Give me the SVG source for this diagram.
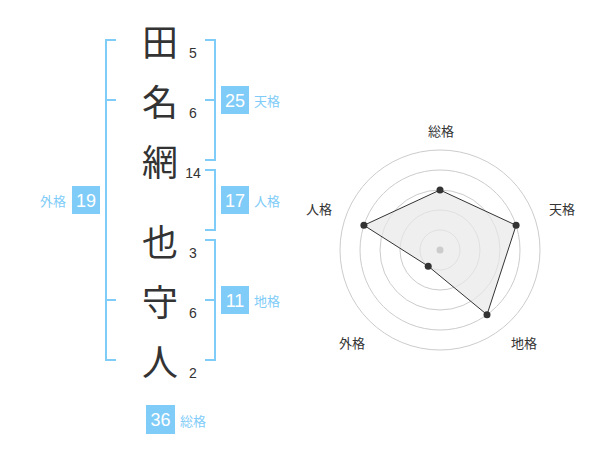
<svg xmlns="http://www.w3.org/2000/svg" width="600" height="470" viewBox="0 0 600 470">
<style>
.bk{fill:none;stroke:#80ccf8;stroke-width:2}
.box{fill:#80ccf8}
.bn{font-family:"Liberation Sans",Arial,sans-serif;font-size:18px;fill:#fff;text-anchor:middle}
.lb{font-family:"Noto Sans CJK JP",sans-serif;font-size:13px;fill:#80ccf8;dominant-baseline:central}
.ch{font-family:"Noto Sans CJK JP",sans-serif;font-size:36px;fill:#333;text-anchor:middle;dominant-baseline:central}
.sn{font-family:"Liberation Sans",Arial,sans-serif;font-size:14px;fill:#333;text-anchor:middle}
.rl{font-family:"Noto Sans CJK JP",sans-serif;font-size:13px;fill:#333;text-anchor:middle;dominant-baseline:central}
.ring{fill:none;stroke:#cccccc;stroke-width:1}
.pt{fill:#333}
</style>
<rect width="600" height="470" fill="#fff"/>
<g id="connectors">
<path class="bk" d="M116,40H106V360H116M106,100H116M106,300H116"/>
<path class="bk" d="M205,40H215V160H205M205,100H215"/>
<path class="bk" d="M205,170H215V230H205"/>
<path class="bk" d="M205,240H215V360H205M205,300H215"/>
</g>
<g id="names">
<g id="c1"><text class="ch" x="160" y="40">田</text><text class="sn" x="193" y="58">5</text></g>
<g id="c2"><text class="ch" x="160" y="100">名</text><text class="sn" x="193" y="118">6</text></g>
<g id="c3"><text class="ch" x="160" y="160">網</text><text class="sn" x="193" y="178">14</text></g>
<g id="c4"><text class="ch" x="160" y="240">也</text><text class="sn" x="193" y="258">3</text></g>
<g id="c5"><text class="ch" x="160" y="300">守</text><text class="sn" x="193" y="318">6</text></g>
<g id="c6"><text class="ch" x="160" y="360">人</text><text class="sn" x="193" y="378">2</text></g>
</g>
<g id="tenkaku"><rect class="box" x="221" y="86" width="28" height="28"/><text class="bn" x="235" y="106.5">25</text><text class="lb" x="254" y="100">天格</text></g>
<g id="jinkaku"><rect class="box" x="221" y="186" width="28" height="28"/><text class="bn" x="235" y="206.5">17</text><text class="lb" x="254" y="200">人格</text></g>
<g id="chikaku"><rect class="box" x="221" y="286" width="28" height="28"/><text class="bn" x="235" y="306.5">11</text><text class="lb" x="254" y="300">地格</text></g>
<g id="gaikaku"><rect class="box" x="72" y="186" width="28" height="28"/><text class="bn" x="86" y="206.5">19</text><text class="lb" x="66" y="200" text-anchor="end">外格</text></g>
<g id="soukaku"><rect class="box" x="146" y="405" width="29" height="29"/><text class="bn" x="160.5" y="426">36</text><text class="lb" x="180" y="420">総格</text></g>
<g id="radar">
<circle class="ring" cx="440" cy="250" r="20"/>
<circle class="ring" cx="440" cy="250" r="40"/>
<circle class="ring" cx="440" cy="250" r="60"/>
<circle class="ring" cx="440" cy="250" r="80"/>
<circle class="ring" cx="440" cy="250" r="100"/>
<polygon points="440,190 516.1,225.3 487,314.7 428.2,266.2 363.9,225.3" fill="#e8e8e8" fill-opacity="0.7" stroke="#333" stroke-width="1"/>
<circle cx="440" cy="250" r="3.5" fill="#cccccc"/>
<circle class="pt" cx="440" cy="190" r="3.5"/>
<circle class="pt" cx="516.1" cy="225.3" r="3.5"/>
<circle class="pt" cx="487" cy="314.7" r="3.5"/>
<circle class="pt" cx="428.2" cy="266.2" r="3.5"/>
<circle class="pt" cx="363.9" cy="225.3" r="3.5"/>
<text class="rl" x="441" y="130">総格</text>
<text class="rl" x="562" y="208">天格</text>
<text class="rl" x="319" y="208">人格</text>
<text class="rl" x="524" y="342">地格</text>
<text class="rl" x="352" y="342">外格</text>
</g>
</svg>
